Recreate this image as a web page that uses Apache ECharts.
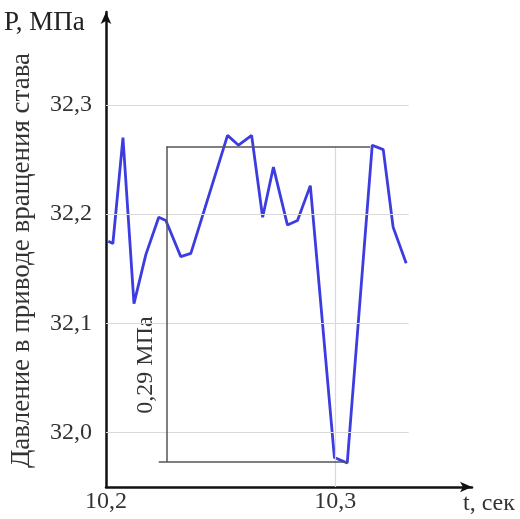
<!DOCTYPE html>
<html>
<head>
<meta charset="utf-8">
<script src="https://cdn.jsdelivr.net/npm/echarts@6/dist/echarts.min.js"></script>
<style>
  html, body { margin: 0; padding: 0; background: #fff; }
  #chart { width: 520px; height: 519px; }
</style>
</head>
<body>
<div id="chart"></div>
<script>
// время, сек
var timeValues = [10.201, 10.203, 10.2074, 10.2122, 10.2174, 10.223, 10.2261, 10.2326, 10.237, 10.2487,
  10.253, 10.2578, 10.2635, 10.2683, 10.273, 10.2791, 10.2835, 10.2891, 10.2996, 10.3052,
  10.3161, 10.3209, 10.3252, 10.3309];
// давление, МПа
var pressureValues = [32.175, 32.173, 32.270, 32.118, 32.163, 32.197, 32.194, 32.161, 32.164, 32.243,
  32.272, 32.263, 32.272, 32.197, 32.243, 32.190, 32.194, 32.226, 31.977, 31.972,
  32.263, 32.259, 32.188, 32.155];
var yTicks = [32.0, 32.1, 32.2, 32.3];
var xTicks = [10.2, 10.3];
// размах 0,29 МПа
var rangeTop = 32.262;
var rangeBottom = 31.973;
var rangeX = 10.2265;
var rangeTopEnd = 10.3152;
var rangeBottomStart = 10.223;
var rangeBottomEnd = 10.3052;
var gridEnd = 10.332;

var xMin = 10.2, xMax = 10.3596;
var yMin = 31.95, yMax = 32.385;

var points = [];
for (var i = 0; i < timeValues.length; i++) {
  points.push([timeValues[i], pressureValues[i]]);
}

var gridLines = [];
for (var j = 0; j < yTicks.length; j++) {
  gridLines.push([{coord: [xMin, yTicks[j]]}, {coord: [gridEnd, yTicks[j]]}]);
}
gridLines.push([{coord: [xTicks[1], yMin]}, {coord: [xTicks[1], rangeTop]}]);

var rangeLines = [
  [{coord: [rangeX, rangeTop]}, {coord: [rangeTopEnd, rangeTop]}],
  [{coord: [rangeBottomStart, rangeBottom]}, {coord: [rangeBottomEnd, rangeBottom]}],
  [{coord: [rangeX, rangeBottom]}, {coord: [rangeX, rangeTop]}]
];

function comma(v) {
  return v.toFixed(1).replace('.', ',');
}

var font = '"Liberation Serif", "Times New Roman", serif';
var chart = echarts.init(document.getElementById('chart'));
chart.setOption({
  animation: false,
  backgroundColor: '#fff',
  grid: {left: 105, right: 48, top: 12, bottom: 32},
  xAxis: {
    type: 'value',
    min: xMin,
    max: xMax,
    axisLine: {lineStyle: {color: '#111', width: 2.5}, symbol: ['none', 'arrow'], symbolSize: [8, 12]},
    axisTick: {show: false},
    splitLine: {show: false},
    axisLabel: {
      customValues: xTicks,
      formatter: comma,
      margin: 3,
      color: '#333',
      fontFamily: font,
      fontSize: 24
    }
  },
  yAxis: {
    type: 'value',
    min: yMin,
    max: yMax,
    name: 'Давление в приводе вращения става',
    nameLocation: 'middle',
    nameRotate: 90,
    nameGap: 71,
    nameTextStyle: {color: '#333', fontFamily: font, fontSize: 27, padding: [0, 22, 0, 0]},
    axisLine: {lineStyle: {color: '#111', width: 2.5}, symbol: ['none', 'arrow'], symbolSize: [8, 12]},
    axisTick: {show: false},
    splitLine: {show: false},
    axisLabel: {
      customValues: yTicks,
      formatter: comma,
      margin: 14,
      color: '#333',
      fontFamily: font,
      fontSize: 24,
      padding: [0, 0, 6, 0]
    }
  },
  graphic: [
    {type: 'text', left: 4, top: 9, style: {text: 'Р, МПа', fill: '#222', font: '27px ' + font}},
    {type: 'text', left: 463, top: 492, style: {text: 't, сек', fill: '#333', font: '24px ' + font}},
    {type: 'text', x: 146, y: 365, rotation: Math.PI / 2,
      style: {text: '0,29 МПа', fill: '#333', font: '24px ' + font, align: 'center', verticalAlign: 'middle'}}
  ],
  series: [
    {
      type: 'line',
      data: [],
      silent: true,
      markLine: {
        silent: true,
        symbol: ['none', 'none'],
        label: {show: false},
        lineStyle: {color: '#d9d9d9', width: 1.2, type: 'solid'},
        data: gridLines
      }
    },
    {
      type: 'line',
      data: [],
      silent: true,
      markLine: {
        silent: true,
        symbol: ['none', 'none'],
        label: {show: false},
        lineStyle: {color: '#555', width: 1.5, type: 'solid'},
        data: rangeLines
      }
    },
    {
      type: 'line',
      data: points,
      showSymbol: false,
      lineStyle: {color: '#3c3ce0', width: 2.8},
      itemStyle: {color: '#3c3ce0'}
    }
  ]
});
</script>
</body>
</html>
